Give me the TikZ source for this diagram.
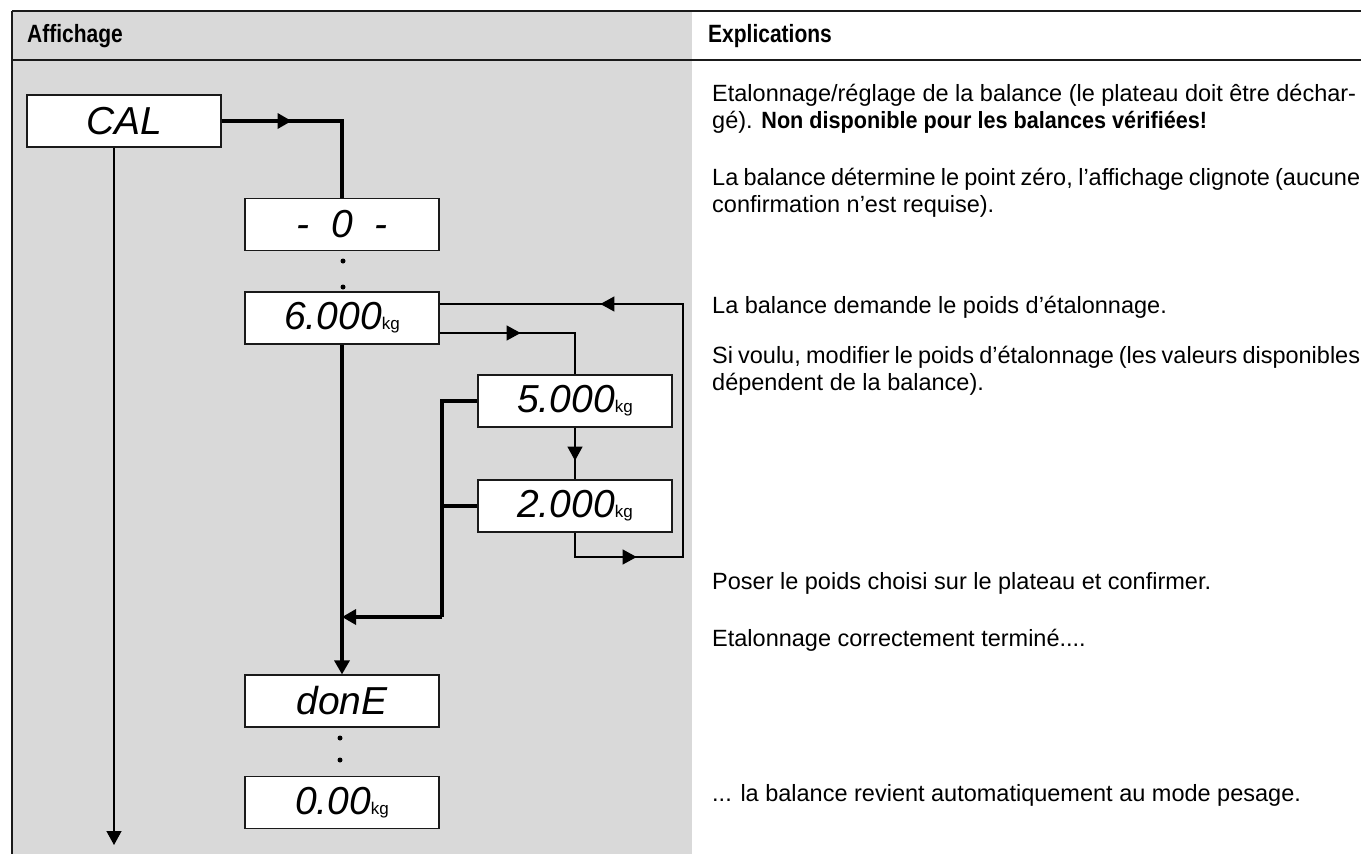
\documentclass[tikz,border=0pt]{standalone}
\usepackage{fontspec}
\usepackage{graphicx}
\setmainfont{Liberation Sans}
\newfontfamily\lcdf{Liberation Sans}
\usetikzlibrary{arrows.meta,decorations.markings,calc}
\definecolor{panel}{HTML}{D9D9D9}
\definecolor{rule}{HTML}{1A1A1A}
\tikzset{
 disp/.style={draw=rule, fill=white, line width=1.2pt, minimum width=194pt, minimum height=52pt, inner sep=0pt, font=\lcdf\itshape\fontsize{39}{39}\selectfont},
 thinline/.style={line width=1.3pt},
 fatline/.style={line width=3.3pt},
 tip/.style={-{Triangle[length=14pt,width=15pt]}},
 midtip/.style={postaction={decorate,decoration={markings,mark=at position #1 with {\arrow{Triangle[length=14pt,width=15pt]}}}}},
 body/.style={anchor=base west, inner sep=0pt, font=\fontsize{23.5}{27}\selectfont},
 head/.style={anchor=base west, inner sep=0pt, font=\bfseries\fontsize{25}{25}\selectfont},
 dot/.style={circle, fill=black, inner sep=0pt, minimum size=5pt},
}
\newcommand{\kgu}{{\upshape\fontsize{17}{17}\selectfont kg}}
\newcommand{\condb}[2]{\scalebox{#1}[1]{\bfseries #2}}
\begin{document}
\begin{tikzpicture}[x=1pt,y=-1pt]
\useasboundingbox (0,0) rectangle (1361,854);
% panels
\fill[panel] (12,11) rectangle (692,854);
\draw[rule, line width=1.5pt] (12,11) -- (1361,11);
\draw[rule, line width=1.2pt] (12,60) -- (1361,60);
\draw[rule, line width=1.5pt] (12,11) -- (12,854);
% headers
\node[head] (h1) at (27,42) {\condb{0.84}{Affichage}};
\node[head] (h2) at (708,42) {\condb{0.84}{Explications}};
% displays
\node[disp] (cal) at (124,121) {CAL};
\node[disp] (zero) at (342,224.5) {-\;\;0\;\;-};
\node[disp] (s6) at (342,318) {6.000\kgu};
\node[disp] (s5) at (575,401) {5.000\kgu};
\node[disp] (s2) at (575,506) {2.000\kgu};
\node[disp] (done) at (342,701) {donE};
\node[disp] (res) at (342,802.5) {0.00\kgu};
% dots
\node[dot] (d1) at (343,261) {};
\node[dot] (d2) at (343,287) {};
\node[dot] (d3) at (340,738) {};
\node[dot] (d4) at (340,760) {};
% helper coordinates
\coordinate (lr) at (683,557);
\coordinate (ur) at (683,304);
\coordinate (jn) at (442,617);
\coordinate (calbot) at (114,845);
% connectors
\draw[fatline, midtip=70pt] (cal.east) -| (zero.north);
\draw[thinline, midtip=81pt] ($(s6.east)+(0,15)$) -| (s5.north);
\draw[thinline, midtip=33pt] (s5.south) -- (s2.north);
\draw[thinline, midtip=86pt, midtip=468pt] (s2.south) |- (lr) -- (ur) -- (ur -| s6.east);
\draw[fatline] (s5.west) -| (jn);
\draw[fatline] (s2.west) -- (s2.west -| jn);
\draw[fatline, tip] (jn) -- (jn -| s6.south);
\draw[fatline, tip] (s6.south) -- (done.north);
\draw[thinline, tip] (cal.south -| calbot) -- (calbot);
% explanations
\node[body] (t1) at (712,101) {\makebox[644pt][s]{Etalonnage/réglage de la balance (le plateau doit être déchar-}};
\node[body] (t2) at (712,128) {gé). \condb{0.92}{Non disponible pour les balances vérifiées!}};
\node[body] (t3) at (712,185) {\makebox[648pt][s]{La balance détermine le point zéro, l’affichage clignote (aucune}};
\node[body] (t4) at (712,212) {confirmation n’est requise).};
\node[body] (t5) at (712,313) {La balance demande le poids d’étalonnage.};
\node[body] (t6) at (712,363) {\makebox[648pt][s]{Si voulu, modifier le poids d’étalonnage (les valeurs disponibles}};
\node[body] (t7) at (712,390) {dépendent de la balance).};
\node[body] (t8) at (712,589) {Poser le poids choisi sur le plateau et confirmer.};
\node[body] (t9) at (712,646) {Etalonnage correctement terminé....};
\node[body] (t10) at (712,801) {... la balance revient automatiquement au mode pesage.};
\end{tikzpicture}
\end{document}
